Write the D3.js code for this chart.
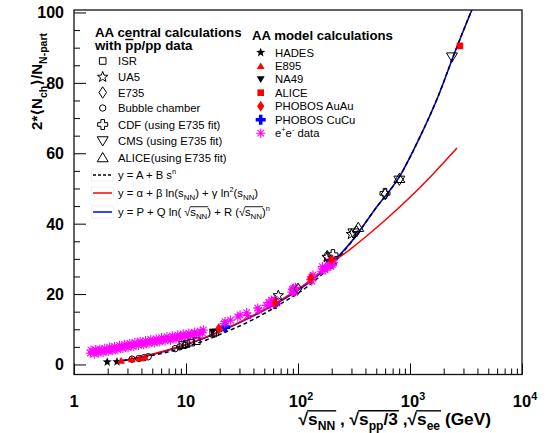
<!DOCTYPE html>
<html>
<head>
<meta charset="utf-8">
<title>Charged multiplicity per participant pair</title>
<script src="https://cdnjs.cloudflare.com/ajax/libs/d3/7.8.5/d3.min.js"></script>
<style>
  body { margin: 0; background: #fff; }
  text { font-family: "Liberation Sans", Arial, Helvetica, sans-serif; white-space: pre; }
</style>
</head>
<body>
<script>
// ---- data: [energy (GeV), 2<Nch>/Npart] ----
var powerFit = [[2.4,0.8],[4,2.0],[6,3.1],[10,5.0],[15,6.9],[20,8.5],[40,12.8],[70,17.2],[120,22.0],[200,28.3],[300,34.8],[500,44.6],[800,53.2],[1200,64],[1800,76.5],[2500,88.5],[3700,102]];
var logQuadFit = [[2.55,1.0],[3,1.35],[4,2.15],[6,3.6],[10,5.7],[20,9.4],[40,14.0],[70,18.3],[120,23.2],[200,28.9],[300,33.0],[400,36.2],[630,41.6],[1000,47.5],[1585,53.9],[2630,61.5]];
var hybridFit = [[2.3,0.8],[3,1.3],[4,2.1],[6,3.5],[10,5.6],[20,9.3],[40,13.8],[70,18.0],[120,22.8],[200,28.8],[300,34.9],[500,44.6],[800,53.2],[1200,64],[1800,76.5],[2500,88.5],[3700,102]];

var isrPts = [[9.3,5.6],[10.1,5.8],[11.1,6.2],[12.5,6.6],[17.5,8.8],[18.2,9.1]];
var ua5Pts = [[66.7,19.6],[182,30.5],[300,37.0]];
var e735Pts = [[100,21.5],[182,30.8],[333,37.8],[600,48.4]];
var bubblePts = [[3.3,1.5],[3.8,1.7],[4.2,1.9],[4.6,2.2],[8.0,4.5],[8.8,5.0],[9.8,5.4]];
var cdfPts = [[205,31.2],[598,48.6]];
var cmsPts = [[312,37.3],[803,52.3],[2370,87.3]];
var alicePpPts = [[345,39.0],[803,52.9]];

var hadesPts = [[1.98,0.7],[2.42,0.75]];
var e895Pts = [[2.63,1.1],[3.28,1.5],[3.84,1.8],[4.29,2.1]];
var na49Pts = [[17.3,9.3]];
var aliceAaPts = [[2790,90.5]];
var phobosAuPts = [[19.6,10.2],[62.4,17.5],[130,24.5],[200,29.8]];
var phobosCuPts = [[22.4,10.6],[62.4,17.2],[200,28.6]];
var eePts = [
  [1.40,3.2],[1.42,4.1],[1.47,3.6],[1.52,3.0],[1.55,4.2],[1.60,3.7],[1.65,3.3],[1.70,4.4],[1.75,3.9],[1.82,3.4],
  [1.88,4.6],[1.95,4.1],[2.02,3.7],[2.08,4.9],[2.15,4.3],[2.22,3.9],[2.30,5.1],[2.38,4.6],[2.46,4.2],[2.55,5.4],
  [2.64,4.9],[2.73,4.5],[2.83,5.7],[2.93,5.2],[3.04,4.8],[3.15,6.0],[3.26,5.5],[3.38,5.1],[3.50,6.3],[3.63,5.8],
  [3.76,5.4],[3.90,6.6],[4.04,6.0],[4.19,5.6],[4.35,6.8],[4.51,6.3],[4.68,5.9],[4.85,7.1],[5.03,6.6],[5.22,6.1],
  [5.42,7.3],[5.62,6.8],[5.83,6.4],[6.05,7.6],[6.28,7.1],[6.51,6.7],[6.76,7.9],[7.01,7.3],[7.28,6.9],[7.55,8.1],
  [7.84,7.6],[8.14,7.2],[8.45,8.4],[8.77,7.9],[9.10,7.5],[9.45,8.7],[9.81,8.1],[10.2,7.8],[10.6,8.9],[11.0,8.4],
  [11.4,8.1],[11.9,9.2],[12.4,8.7],[12.9,8.4],[13.4,9.5],[14.0,9.0],[14.3,9.8],
  [22.0,11.6],[22.3,12.2],[25.0,12.6],[29.0,13.5],[30.4,14.1],[34.8,14.7],[35.5,13.9],[43.7,16.0],[44.5,15.4],
  [52.0,16.8],[55.0,17.6],[57.0,17.1],[58.0,18.3],[60.0,17.8],[61.4,18.5],[64.0,17.4],
  [88.0,20.6],[89.5,21.3],[91.2,20.8],[91.2,21.7],[92.5,21.1],[93.5,20.4],[95.0,21.9],
  [130,24.1],[133,24.9],[136,25.4],[133,23.7],[161,26.5],[165,27.8],[172,27.2],[175,26.8],
  [183,27.6],[186,29.4],[189,28.3],[192,28.9],[196,27.9],[200,29.3],[202,28.4],[205,29.7],[207,28.9]
];

var yMajor = [0, 20, 40, 60, 80, 100];
var xMajor = [1, 10, 100, 1000, 10000];
var xLabels = [["1",""],["10",""],["10","2"],["10","3"],["10","4"]];
var ppLabels = ["ISR", "UA5", "E735", "Bubble chamber", "CDF (using E735 fit)", "CMS (using E735 fit)", "ALICE(using E735 fit)"];
var aaLabels = ["HADES", "E895", "NA49", "ALICE", "PHOBOS AuAu", "PHOBOS CuCu"];

// ---- layout ----
var width = 547, height = 433;
var plotL = 74, plotR = 522, plotT = 10, plotB = 374.5;

var svg = d3.select("body").append("svg")
  .attr("width", width).attr("height", height);

var x = d3.scaleLog().domain([1, 10000]).range([plotL, plotR]);
var y = d3.scaleLinear().domain([-2.85, 100.7]).range([plotB, plotT]);

svg.append("clipPath").attr("id", "plotClip")
  .append("rect").attr("x", plotL).attr("y", plotT)
  .attr("width", plotR - plotL).attr("height", plotB - plotT);

// ---- marker shapes ----
function starPath(r) {
  var p = [];
  for (var i = 0; i < 10; i++) {
    var a = -Math.PI / 2 + i * Math.PI / 5, rr = i % 2 ? r * 0.42 : r;
    p.push([rr * Math.cos(a), rr * Math.sin(a)]);
  }
  return "M" + p.map(function(d) { return d[0].toFixed(2) + "," + d[1].toFixed(2); }).join("L") + "Z";
}
function crossPath(a, b) {
  return "M" + (-a) + "," + (-b) + "H" + a + "V" + (-a) + "H" + b + "V" + a + "H" + a + "V" + b +
    "H" + (-a) + "V" + a + "H" + (-b) + "V" + (-a) + "H" + (-a) + "Z";
}
var shapes = {
  square: function(h) { return "M" + (-h) + "," + (-h) + "H" + h + "V" + h + "H" + (-h) + "Z"; },
  circle: function(r) { return "M" + r + ",0A" + r + "," + r + " 0 1,1 " + (-r) + ",0A" + r + "," + r + " 0 1,1 " + r + ",0Z"; },
  diamond: function(w) { return "M0," + (-w * 1.5) + "L" + w + ",0L0," + (w * 1.5) + "L" + (-w) + ",0Z"; },
  star: starPath,
  cross: function(b) { return crossPath(b * 0.36, b); },
  triUp: function(r) { return "M0," + (-r) + "L" + (r * 1.1) + "," + (r * 0.85) + "L" + (-r * 1.1) + "," + (r * 0.85) + "Z"; },
  triDown: function(r) { return "M0," + r + "L" + (r * 1.1) + "," + (-r * 0.85) + "L" + (-r * 1.1) + "," + (-r * 0.85) + "Z"; },
  aster: function(r) {
    var d = r * 0.7071;
    return "M" + (-r) + ",0H" + r + "M0," + (-r) + "V" + r + "M" + (-d) + "," + (-d) + "L" + d + "," + d + "M" + (-d) + "," + d + "L" + d + "," + (-d);
  }
};

var styles = {
  isr:    { shape: "square", size: 3.3, fill: "none", stroke: "#000", sw: 1 },
  ua5:    { shape: "star", size: 5.5, fill: "none", stroke: "#000", sw: 1 },
  e735:   { shape: "diamond", size: 3.8, fill: "none", stroke: "#000", sw: 1 },
  bubble: { shape: "circle", size: 3.2, fill: "none", stroke: "#000", sw: 1 },
  cdf:    { shape: "cross", size: 5, fill: "none", stroke: "#000", sw: 1 },
  cms:    { shape: "triDown", size: 5, fill: "none", stroke: "#000", sw: 1 },
  alicePp:{ shape: "triUp", size: 5, fill: "none", stroke: "#000", sw: 1 },
  hades:  { shape: "star", size: 4.8, fill: "#000", stroke: "none", sw: 0 },
  e895:   { shape: "triUp", size: 3.6, fill: "#ff0000", stroke: "none", sw: 0 },
  na49:   { shape: "triDown", size: 3.6, fill: "#000", stroke: "none", sw: 0 },
  aliceAa:{ shape: "square", size: 3.3, fill: "#ff0000", stroke: "none", sw: 0 },
  phobosAu:{ shape: "diamond", size: 3.6, fill: "#ff0000", stroke: "none", sw: 0 },
  phobosCu:{ shape: "cross", size: 5, fill: "#0000ff", stroke: "none", sw: 0 },
  ee:     { shape: "aster", size: 4.6, fill: "none", stroke: "#ff00ff", sw: 1.1 }
};

function marker(sel, st) {
  sel.attr("d", shapes[st.shape](st.size))
    .attr("fill", st.fill).attr("stroke", st.stroke).attr("stroke-width", st.sw);
}

// ---- fit curves ----
var line = d3.line()
  .x(function(d) { return x(d[0]); })
  .y(function(d) { return y(d[1]); })
  .curve(d3.curveMonotoneX);

var curves = svg.append("g").attr("clip-path", "url(#plotClip)");
curves.append("path").datum(hybridFit).attr("d", line)
  .attr("fill", "none").attr("stroke", "#0000ff").attr("stroke-width", 1.6);
curves.append("path").datum(logQuadFit).attr("d", line)
  .attr("fill", "none").attr("stroke", "#ff0000").attr("stroke-width", 1.5);
curves.append("path").datum(powerFit).attr("d", line)
  .attr("fill", "none").attr("stroke", "#000").attr("stroke-width", 1.5)
  .attr("stroke-dasharray", "4,3");

// ---- points ----
function drawPoints(pts, st) {
  svg.append("g").selectAll("path").data(pts).enter().append("path")
    .attr("transform", function(d) { return "translate(" + x(d[0]) + "," + y(d[1]) + ")"; })
    .call(marker, st);
}
drawPoints(phobosCuPts, styles.phobosCu);
drawPoints(na49Pts, styles.na49);
drawPoints(eePts, styles.ee);
drawPoints(isrPts, styles.isr);
drawPoints(bubblePts, styles.bubble);
drawPoints(e735Pts, styles.e735);
drawPoints(ua5Pts, styles.ua5);
drawPoints(cdfPts, styles.cdf);
drawPoints(cmsPts, styles.cms);
drawPoints(alicePpPts, styles.alicePp);
drawPoints(hadesPts, styles.hades);
drawPoints(e895Pts, styles.e895);
drawPoints(phobosAuPts, styles.phobosAu);
drawPoints(aliceAaPts, styles.aliceAa);

// ---- axes (ticks inside the frame) ----
var xMinor = [];
[1, 10, 100, 1000].forEach(function(dec) {
  for (var k = 2; k <= 9; k++) xMinor.push(dec * k);
});
var yMinor = d3.range(0, 101, 5).filter(function(v) { return v % 20; });

svg.append("g").attr("transform", "translate(0," + plotB + ")")
  .call(d3.axisBottom(x).tickValues(xMajor).tickSize(-11).tickFormat(""))
  .call(function(g) { g.select(".domain").remove(); });
svg.append("g").attr("transform", "translate(0," + plotB + ")")
  .call(d3.axisBottom(x).tickValues(xMinor).tickSize(-6).tickFormat(""))
  .call(function(g) { g.select(".domain").remove(); });
svg.append("g").attr("transform", "translate(" + plotL + ",0)")
  .call(d3.axisLeft(y).tickValues(yMajor).tickSize(-12).tickFormat(""))
  .call(function(g) { g.select(".domain").remove(); });
svg.append("g").attr("transform", "translate(" + plotL + ",0)")
  .call(d3.axisLeft(y).tickValues(yMinor).tickSize(-6).tickFormat(""))
  .call(function(g) { g.select(".domain").remove(); });
svg.selectAll(".tick line").attr("stroke", "#000").attr("stroke-width", 1);

svg.append("rect").attr("x", plotL).attr("y", plotT)
  .attr("width", plotR - plotL).attr("height", plotB - plotT)
  .attr("fill", "none").attr("stroke", "#111").attr("stroke-width", 1.3);

// ---- rich text helper (sub/superscripts, overlines) ----
function rich(parent, px, py, segs, o) {
  var g = parent.append("g")
    .attr("transform", "translate(" + px + "," + py + ")" + (o.rot ? " rotate(" + o.rot + ")" : ""));
  var inner = g.append("g");
  var cx = 0, barStart = 0;
  segs.forEach(function(s) {
    var fs = o.size * (s.k || 1);
    var t = inner.append("text").attr("x", cx).attr("y", (s.dy || 0) * o.size)
      .style("font-size", fs + "px").style("font-weight", o.weight || "normal")
      .style("font-family", s.ff || null)
      .attr("fill", "#000").text(s.t);
    var w = t.node().getComputedTextLength();
    if (s.ob) barStart = cx + (s.obOff || 0) * o.size;
    if (s.oe) {
      var by = -(s.barY || 0.82) * o.size;
      inner.append("line").attr("x1", barStart).attr("x2", cx + w + 1)
        .attr("y1", by).attr("y2", by)
        .attr("stroke", "#000").attr("stroke-width", o.weight === "bold" ? 1.4 : 0.9);
    }
    cx += w + (s.gap || 0);
  });
  if (o.anchor === "end") inner.attr("transform", "translate(" + (-cx) + ",0)");
  if (o.anchor === "middle") inner.attr("transform", "translate(" + (-cx / 2) + ",0)");
  return g;
}
function sub(t) { return { t: t, k: 0.7, dy: 0.3 }; }
function sup(t) { return { t: t, k: 0.65, dy: -0.42 }; }

// tick labels
xMajor.forEach(function(v, i) {
  var segs = [{ t: xLabels[i][0] }];
  if (xLabels[i][1]) segs.push(sup(xLabels[i][1]));
  rich(svg, x(v) + (xLabels[i][1] ? 3 : 0), 407, segs, { size: 16.5, weight: "bold", anchor: "middle" });
});
yMajor.forEach(function(v) {
  svg.append("text").attr("x", 64).attr("y", y(v) + 6)
    .attr("text-anchor", "end").style("font-size", "16px").style("font-weight", "bold")
    .text(v);
});

// axis titles
var xt = [{ t: "\u221A" }, { t: "s", ob: true, obOff: -0.05 }, { t: "NN", k: 0.7, dy: 0.3, oe: true },
  { t: " , " },
  { t: "\u221A" }, { t: "s", ob: true, obOff: -0.05 }, { t: "pp", k: 0.7, dy: 0.3 }, { t: "/3", oe: true },
  { t: " ," },
  { t: "\u221A" }, { t: "s", ob: true, obOff: -0.05 }, { t: "ee", k: 0.7, dy: 0.3, oe: true },
  { t: " (GeV)" }];
rich(svg, 491, 425, xt, { size: 17.3, weight: "bold", anchor: "end" });

var ytitle = [{ t: "2*" }, { t: "\u27E8", ff: "DejaVu Sans" }, { t: "N" }, sub("ch"),
  { t: "\u27E9", ff: "DejaVu Sans" }, { t: "/N" }, sub("N-part")];
rich(svg, 42, 33, ytitle, { size: 15, weight: "bold", anchor: "end", rot: -90 });

// ---- legend: pp / ppbar data ----
var leg = svg.append("g");
leg.append("text").attr("x", 95).attr("y", 37)
  .style("font-size", "13.3px").style("font-weight", "bold").text("AA central calculations");
var withTxt = leg.append("text").attr("x", 95).attr("y", 50)
  .style("font-size", "13.3px").style("font-weight", "bold").text("with pp/pp data");
var barX0 = 95 + withTxt.node().getSubStringLength(0, 5);
var barW = withTxt.node().getSubStringLength(5, 1);
leg.append("line").attr("x1", barX0).attr("x2", barX0 + barW).attr("y1", 39.5).attr("y2", 39.5)
  .attr("stroke", "#000").attr("stroke-width", 1.4);

var ppKeys = ["isr", "ua5", "e735", "bubble", "cdf", "cms", "alicePp"];
var ppRowY = [61, 77, 92.5, 108, 124.5, 141, 157.5];
ppKeys.forEach(function(k, i) {
  leg.append("path").attr("transform", "translate(102.7," + ppRowY[i] + ")").call(marker, styles[k]);
  leg.append("text").attr("x", 118).attr("y", ppRowY[i] + 4)
    .style("font-size", "11.3px").text(ppLabels[i]);
});

var fitRowY = [175, 193, 212];
var fitStyles = [
  { stroke: "#000", dash: "3,2" },
  { stroke: "#ff0000", dash: null },
  { stroke: "#0000ff", dash: null }
];
fitRowY.forEach(function(ry, i) {
  leg.append("rect").attr("x", 91.5).attr("y", ry - 6).attr("width", 22).attr("height", 12)
    .attr("fill", "none").attr("stroke", "#ececec").attr("stroke-width", 0.8);
  leg.append("line").attr("x1", 93).attr("x2", 112).attr("y1", ry).attr("y2", ry)
    .attr("stroke", fitStyles[i].stroke).attr("stroke-width", 1.5)
    .attr("stroke-dasharray", fitStyles[i].dash);
});
var fs = 11.3;
rich(leg, 118, fitRowY[0] + 4, [{ t: "y = A + B s" }, sup("n")], { size: fs });
rich(leg, 118, fitRowY[1] + 4, [{ t: "y = \u03B1 + \u03B2 ln(s" }, sub("NN"), { t: ") + \u03B3 ln" }, sup("2"),
  { t: "(s" }, sub("NN"), { t: ")" }], { size: fs });
rich(leg, 118, fitRowY[2] + 4, [{ t: "y = P + Q ln( " }, { t: "\u221A", gap: -0.3 }, { t: "s", ob: true }, { t: "NN", k: 0.7, dy: 0.3, oe: true },
  { t: ") + R (" }, { t: "\u221A", gap: -0.3 }, { t: "s", ob: true }, { t: "NN", k: 0.7, dy: 0.3, oe: true }, { t: ")" }, sup("n")], { size: fs });

// ---- legend: AA model calculations ----
leg.append("text").attr("x", 252).attr("y", 40)
  .style("font-size", "13.2px").style("font-weight", "bold").text("AA model calculations");
var aaKeys = ["hades", "e895", "na49", "aliceAa", "phobosAu", "phobosCu", "ee"];
var aaRowY = [52.5, 66, 79.3, 92.7, 106.2, 119.7, 133.2];
aaKeys.forEach(function(k, i) {
  leg.append("path").attr("transform", "translate(260.7," + aaRowY[i] + ")").call(marker, styles[k]);
  if (i < aaLabels.length) {
    leg.append("text").attr("x", 275).attr("y", aaRowY[i] + 4)
      .style("font-size", "11.3px").text(aaLabels[i]);
  }
});
rich(leg, 275, aaRowY[6] + 4, [{ t: "e" }, sup("+"), { t: "e" }, sup("-"), { t: " data" }], { size: 11.3 });
</script>
</body>
</html>
